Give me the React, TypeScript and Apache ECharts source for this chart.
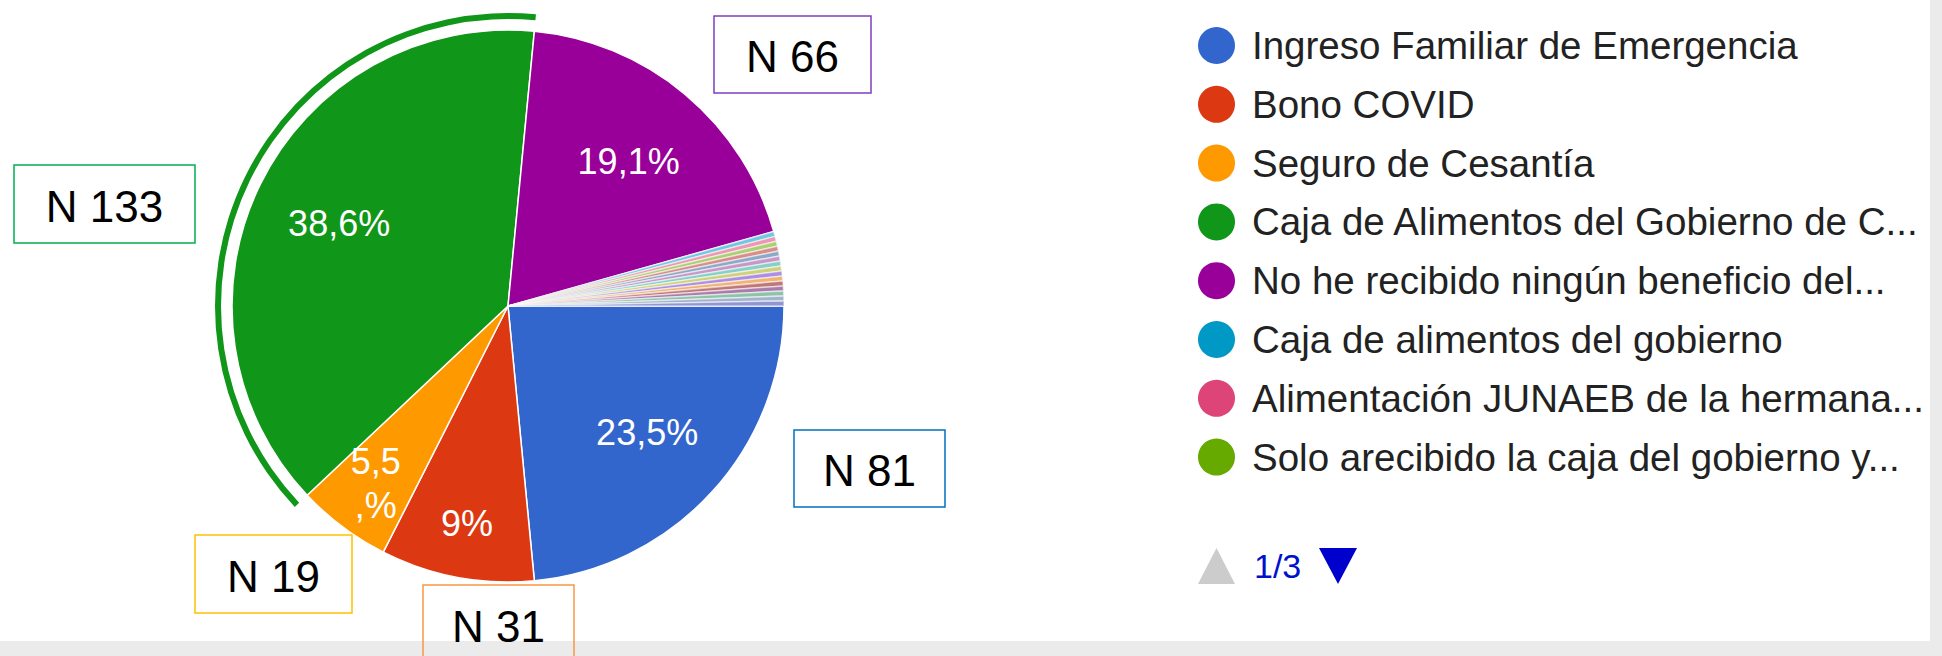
import React, { useEffect, useRef } from "react";
import * as echarts from "echarts";

// ---- data ----
const categories = [
  "Ingreso Familiar de Emergencia",
  "Bono COVID",
  "Seguro de Cesantía",
  "Caja de Alimentos del Gobierno de C...",
  "No he recibido ningún beneficio del...",
  "Caja de alimentos del gobierno",
  "Alimentación JUNAEB de la hermana...",
  "Solo arecibido la caja del gobierno y...",
  "Otra respuesta 1",
  "Otra respuesta 2",
  "Otra respuesta 3",
  "Otra respuesta 4",
  "Otra respuesta 5",
  "Otra respuesta 6",
  "Otra respuesta 7",
  "Otra respuesta 8",
  "Otra respuesta 9",
  "Otra respuesta 10",
  "Otra respuesta 11",
  "Otra respuesta 12",
];
const counts = [81, 31, 19, 133, 66, 1, 1, 1, 1, 1, 1, 1, 1, 1, 1, 1, 1, 1, 1, 1];
const sliceColors = [
  "#3366cc", "#dc3912", "#ff9900", "#109618", "#990099", "#0099c6", "#dd4477",
  "#66aa00", "#b82e2e", "#316395", "#994499", "#22aa99", "#aaaa11", "#6633cc",
  "#e67300", "#8b0707", "#651067", "#329262", "#5574a6", "#3b3eac",
];
const highlightedIndex = 3;
const legendPageSize = 8;

// annotation boxes (layout only; text comes from counts)
const annotations = [
  { index: 3, left: 14, top: 165, width: 181, height: 78, border: "#00b050" },
  { index: 4, left: 714, top: 16, width: 157, height: 77, border: "#7f3fbf" },
  { index: 0, left: 794, top: 430, width: 151, height: 77, border: "#0070c0" },
  { index: 2, left: 195, top: 535, width: 157, height: 78, border: "#ffc000" },
  { index: 1, left: 423, top: 585, width: 151, height: 78, border: "#f79646" },
];

const FONT = 'Arial, "Liberation Sans", sans-serif';
const CENTER = [508, 306];
const R = 276;

const total = counts.reduce((a, b) => a + b, 0);
const share = (i: number) => counts[i] / total;
const pctText = (i: number) =>
  (share(i) * 100).toFixed(1).replace(/\.0$/, "").replace(".", ",");

const pieData = categories.map((name, i) => ({
  name,
  value: counts[i],
  itemStyle: { color: sliceColors[i], opacity: share(i) < 0.01 ? 0.55 : 1 },
}));

function buildOption() {
  const pages = Math.ceil(categories.length / legendPageSize);
  const graphic: any[] = [
    { type: "rect", z: 50, shape: { x: 0, y: 641, width: 1942, height: 15 }, style: { fill: "#ebebeb" } },
    { type: "rect", z: 50, shape: { x: 1930, y: 0, width: 12, height: 641 }, style: { fill: "#ebebeb" } },
  ];
  annotations.forEach((a) => {
    graphic.push({
      type: "rect",
      z: 100,
      shape: { x: a.left, y: a.top, width: a.width, height: a.height },
      style: { fill: "none", stroke: a.border, lineWidth: 1.5 },
    });
    graphic.push({
      type: "text",
      z: 101,
      x: a.left + a.width / 2,
      y: a.top + a.height / 2 + 2,
      style: {
        text: "N " + counts[a.index],
        fill: "#000",
        fontSize: 44,
        fontFamily: FONT,
        align: "center",
        verticalAlign: "middle",
      },
    });
  });
  // pager
  graphic.push({
    type: "polygon",
    z: 100,
    shape: { points: [[1198, 584], [1235, 584], [1216.5, 548]] },
    style: { fill: "#cccccc" },
  });
  graphic.push({
    type: "text",
    z: 100,
    x: 1254,
    y: 566,
    style: {
      text: "1/" + pages,
      fill: "#0011cc",
      fontSize: 34,
      fontFamily: FONT,
      align: "left",
      verticalAlign: "middle",
    },
  });
  graphic.push({
    type: "polygon",
    z: 100,
    shape: { points: [[1319, 548], [1357, 548], [1338, 584]] },
    style: { fill: "#0000cc" },
  });

  const labelOverlay = (r0: number, pick: (i: number) => boolean) => ({
    type: "pie",
    silent: true,
    center: CENTER,
    radius: [r0, R],
    startAngle: 0,
    clockwise: true,
    avoidLabelOverlap: false,
    z: 5,
    emphasis: { disabled: true },
    itemStyle: { color: "rgba(0,0,0,0)", borderWidth: 0 },
    label: {
      show: true,
      position: "inside",
      color: "#fff",
      fontSize: 36,
      lineHeight: 44,
      fontFamily: FONT,
      formatter: (p: any) => {
        const i = p.dataIndex;
        if (!pick(i)) return "";
        return share(i) < 0.07 ? pctText(i) + "\n,%" : pctText(i) + "%";
      },
    },
    labelLine: { show: false },
    data: categories.map((name, i) => ({ name, value: counts[i] })),
  });

  return {
    animation: false,
    legend: {
      type: "plain",
      orient: "vertical",
      left: 1198,
      top: 26,
      padding: 0,
      itemWidth: 61,
      itemHeight: 37,
      itemGap: 19.8,
      icon: "circle",
      selectedMode: false,
      itemStyle: { borderWidth: 0, opacity: 1 },
      textStyle: { fontSize: 38.5, lineHeight: 37, color: "#222222", fontFamily: FONT },
      data: categories.slice(0, legendPageSize),
    },
    graphic,
    series: [
      {
        type: "pie",
        center: CENTER,
        radius: [0, R],
        startAngle: 0,
        clockwise: true,
        silent: true,
        z: 2,
        emphasis: { disabled: true },
        itemStyle: { borderColor: "#ffffff", borderWidth: 1.5 },
        label: { show: false },
        labelLine: { show: false },
        data: pieData,
      },
      {
        type: "pie",
        center: CENTER,
        radius: [287, 293],
        startAngle: 0,
        clockwise: true,
        silent: true,
        z: 3,
        emphasis: { disabled: true },
        label: { show: false },
        labelLine: { show: false },
        data: categories.map((name, i) => ({
          name,
          value: counts[i],
          itemStyle: {
            color: i === highlightedIndex ? sliceColors[i] : "rgba(0,0,0,0)",
            borderWidth: 0,
          },
        })),
      },
      labelOverlay(94, (i) => share(i) >= 0.15),
      labelOverlay(160, (i) => share(i) >= 0.05 && share(i) < 0.15),
    ],
  };
}

export default function App() {
  const ref = useRef<HTMLDivElement>(null);
  useEffect(() => {
    const chart = echarts.init(ref.current!, null, { renderer: "svg" });
    chart.setOption(buildOption() as any);
    return () => chart.dispose();
  }, []);
  return (
    <div
      ref={ref}
      style={{ position: "fixed", left: 0, top: 0, width: 1942, height: 656, background: "#ffffff" }}
    />
  );
}
